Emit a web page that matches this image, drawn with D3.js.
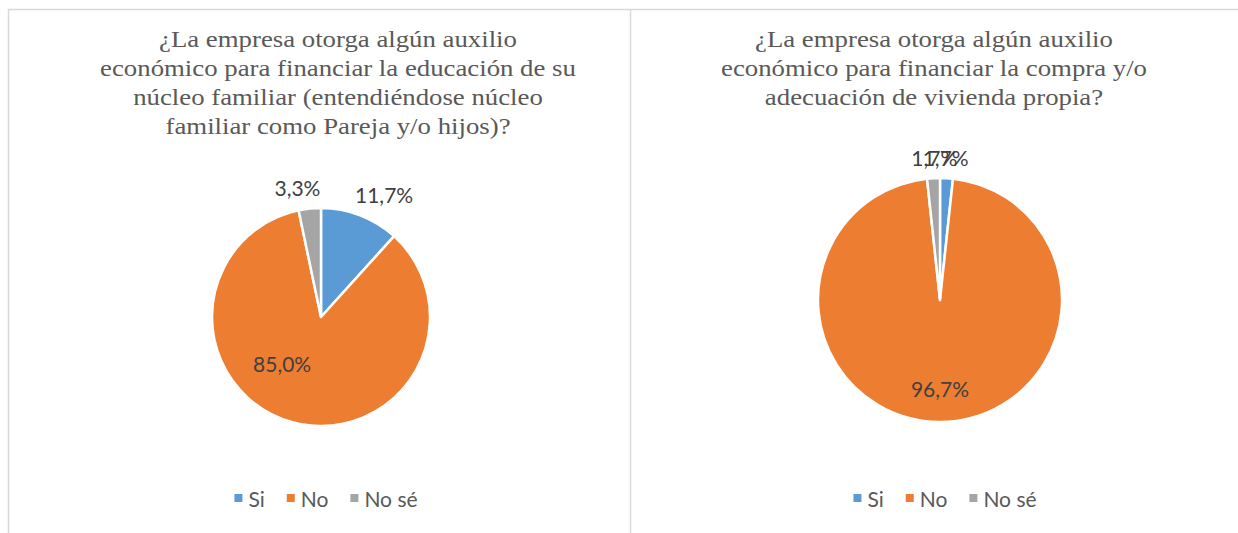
<!DOCTYPE html>
<html>
<head>
<meta charset="utf-8">
<script src="https://cdn.jsdelivr.net/npm/d3@7"></script>
<style>
  html, body { margin: 0; padding: 0; background: #fff; }
  svg { display: block; }
</style>
</head>
<body>
<svg id="chart" width="1238" height="533"></svg>
<script>
// ---- Data ----
const categories = ["Si", "No", "No sé"];
const educacionValues = [11.7, 85.0, 3.3];
const viviendaValues = [1.7, 96.7, 1.7];
const educacionTitle = [
  "¿La empresa otorga algún auxilio",
  "económico para financiar la educación de su",
  "núcleo familiar (entendiéndose núcleo",
  "familiar como Pareja y/o hijos)?"
];
const viviendaTitle = [
  "¿La empresa otorga algún auxilio",
  "económico para financiar la compra y/o",
  "adecuación de vivienda propia?"
];

// ---- Layout / style (not data) ----
const colors = ["#5B9BD5", "#ED7D31", "#A5A5A5"];
const panels = [
  { values: educacionValues, title: educacionTitle, titleX: 338, cx: 321, cy: 317, r: 109,
    labelNudge: [[16, 0], [-19, -27], [-10, 1]] },
  { values: viviendaValues, title: viviendaTitle, titleX: 934, cx: 940, cy: 300, r: 122,
    labelNudge: [[-2, 1], [0, 3], [2, 1]] }
];

const svg = d3.select("#chart");
svg.append("rect").attr("width", 1238).attr("height", 533).attr("fill", "#fff");

// borders
const borderColor = "#d9d9d9";
svg.append("line").attr("x1", 8).attr("x2", 1238).attr("y1", 9.5).attr("y2", 9.5)
  .attr("stroke", borderColor).attr("stroke-width", 1.5);
svg.append("line").attr("x1", 8.5).attr("x2", 8.5).attr("y1", 9).attr("y2", 533)
  .attr("stroke", borderColor).attr("stroke-width", 1.5);
svg.append("line").attr("x1", 630.5).attr("x2", 630.5).attr("y1", 9).attr("y2", 533)
  .attr("stroke", borderColor).attr("stroke-width", 1.5);

const fmt = v => d3.format(".1f")(v).replace(".", ",") + "%";
const pie = d3.pie().sort(null).value(d => d);

panels.forEach(p => {
  const g = svg.append("g");
  // title (slightly widened serif to match the reference)
  const t = g.append("text")
    .attr("transform", `translate(${p.titleX},0) scale(1.165,1)`)
    .attr("font-family", "'Liberation Serif', 'Times New Roman', serif")
    .attr("font-size", 23).attr("fill", "#595959").attr("text-anchor", "middle");
  p.title.forEach((line, i) => {
    t.append("tspan").attr("x", 0).attr("y", 47.5 + i * 28.7).text(line);
  });

  const arcs = pie(p.values);
  const arc = d3.arc().innerRadius(0).outerRadius(p.r);
  const pg = g.append("g").attr("transform", `translate(${p.cx},${p.cy})`);
  pg.selectAll("path").data(arcs).join("path")
    .attr("d", arc)
    .attr("fill", (d, i) => colors[i])
    .attr("stroke", "#fff").attr("stroke-width", 2.5).attr("stroke-linejoin", "round");

  const outArc = d3.arc().innerRadius(p.r + 22).outerRadius(p.r + 22);
  const inArc = d3.arc().innerRadius(p.r * 0.7).outerRadius(p.r * 0.7);
  pg.selectAll("text.lbl").data(arcs).join("text")
    .attr("class", "lbl")
    .attr("transform", (d, i) => {
      const small = (d.endAngle - d.startAngle) < 1.0;
      const c = (small ? outArc : inArc).centroid(d);
      const n = p.labelNudge[i];
      return `translate(${c[0] + n[0]},${c[1] + n[1]})`;
    })
    .attr("text-anchor", "middle").attr("dominant-baseline", "central")
    .attr("font-family", "Lato, 'Open Sans', sans-serif").attr("font-size", 21)
    .attr("fill", "#404040")
    .text(d => fmt(d.data));

  // legend
  const lg = g.append("g");
  let x = 0;
  categories.forEach((c, i) => {
    const it = lg.append("g");
    it.append("rect").attr("x", x).attr("y", -4).attr("width", 8).attr("height", 8).attr("fill", colors[i]);
    const tx = it.append("text").attr("x", x + 14).attr("y", 0).attr("dominant-baseline", "central")
      .attr("font-family", "Lato, 'Open Sans', sans-serif").attr("font-size", 21).attr("fill", "#595959")
      .text(c);
    x += 14 + tx.node().getComputedTextLength() + 22;
  });
  const totalW = x - 22;
  lg.attr("transform", `translate(${p.cx + 5 - totalW / 2},498)`);
});
</script>
</body>
</html>
